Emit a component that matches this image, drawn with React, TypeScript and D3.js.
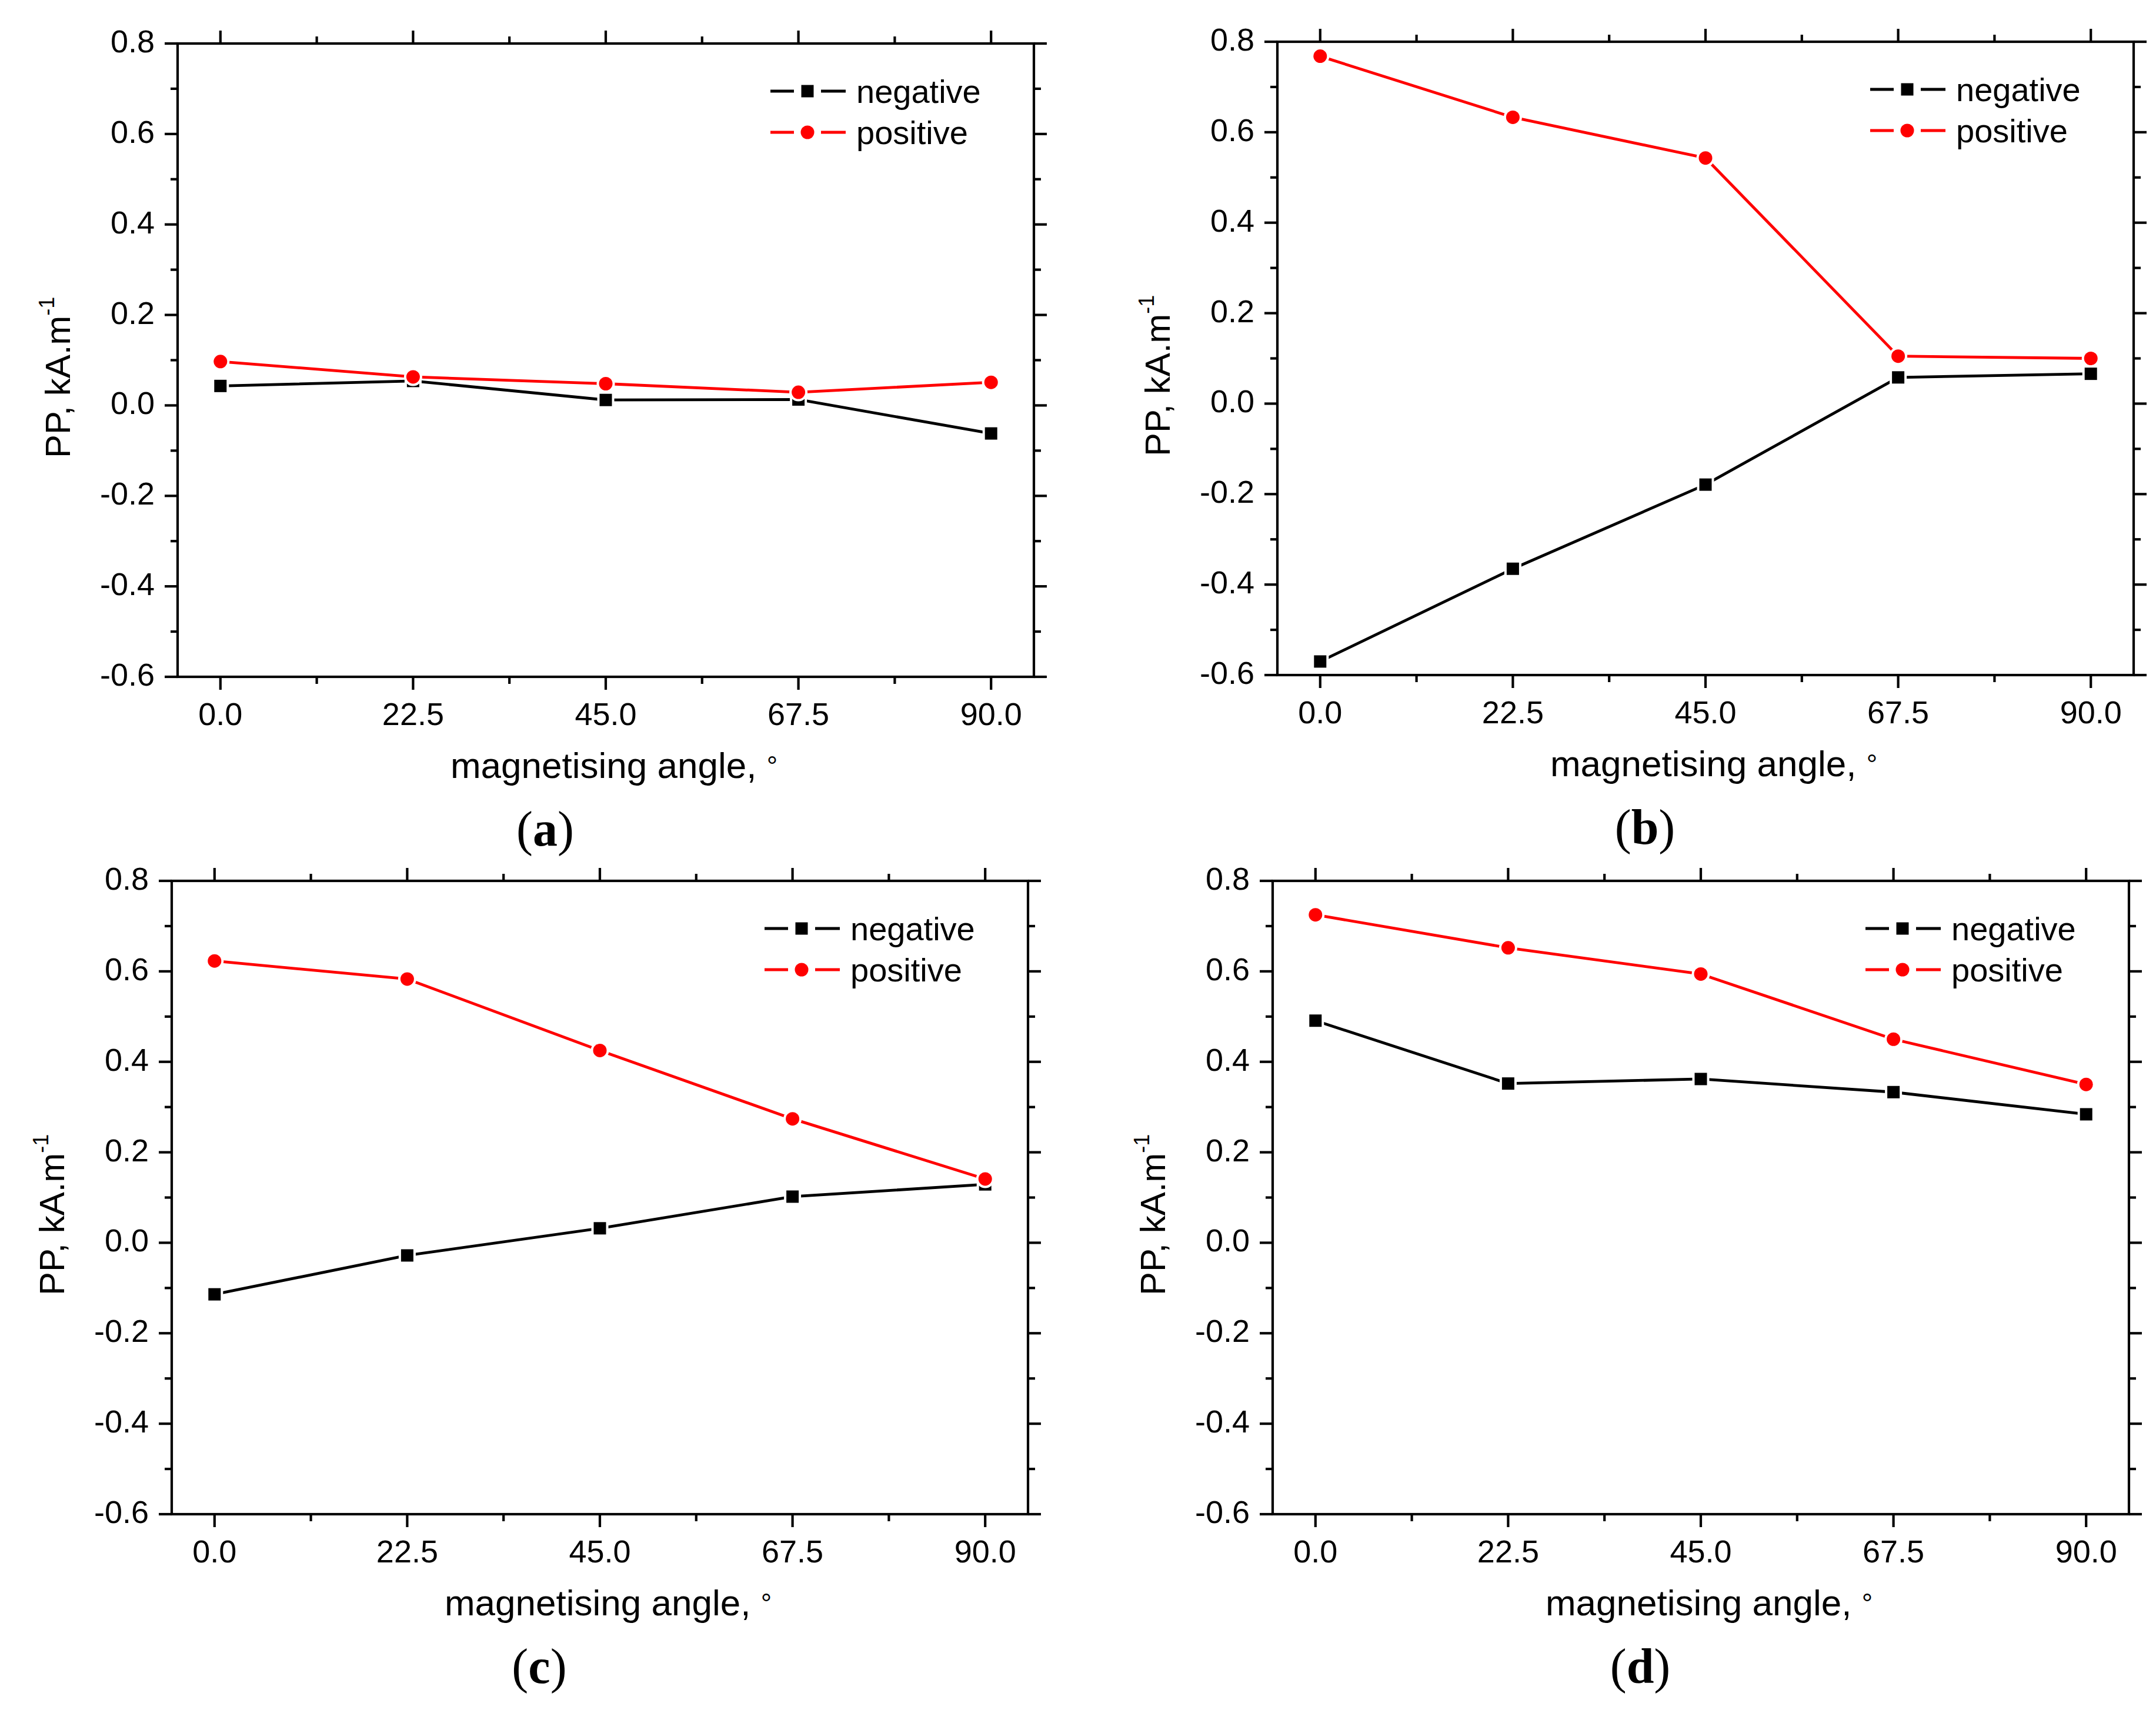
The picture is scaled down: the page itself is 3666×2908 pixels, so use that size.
import React from 'react';
import * as d3 from 'd3';

// ---- data ----
const angles = [0, 22.5, 45, 67.5, 90];
const seriesNames = ['negative', 'positive'];
const panelLabels = ['a', 'b', 'c', 'd'];

const negativeA = [0.043, 0.054, 0.012, 0.013, -0.062];
const positiveA = [0.097, 0.063, 0.048, 0.029, 0.051];
const negativeB = [-0.570, -0.365, -0.179, 0.058, 0.066];
const positiveB = [0.768, 0.633, 0.543, 0.105, 0.100];
const negativeC = [-0.114, -0.028, 0.032, 0.102, 0.129];
const positiveC = [0.623, 0.583, 0.425, 0.274, 0.141];
const negativeD = [0.491, 0.352, 0.362, 0.333, 0.284];
const positiveD = [0.725, 0.652, 0.594, 0.450, 0.350];

const xTicks = [0, 22.5, 45, 67.5, 90];
const xMinorTicks = [11.25, 33.75, 56.25, 78.75];
const yTicks = [-0.6, -0.4, -0.2, 0.0, 0.2, 0.4, 0.6, 0.8];
const yMinorTicks = [-0.5, -0.3, -0.1, 0.1, 0.3, 0.5, 0.7];

const xTitle = 'magnetising angle, ';
const yTitle = 'PP, kA.m';
const ySup = '-1';

// ---- style ----
const SANS = "'Liberation Sans', Arial, Helvetica, sans-serif";
const SERIF = "'Liberation Serif', 'Times New Roman', serif";
const W = 3666;
const H = 2908;
const PW = 1456;
const PH = 1077;
const COLORS = ['#000000', '#ff0000'];
const AXW = 4.2;
const MAJ = 22;
const MIN = 12;

const panels = [
  { left: 302, top: 74, neg: negativeA, pos: positiveA, label: panelLabels[0] },
  { left: 2172, top: 71, neg: negativeB, pos: positiveB, label: panelLabels[1] },
  { left: 292, top: 1498, neg: negativeC, pos: positiveC, label: panelLabels[2] },
  { left: 2164, top: 1498, neg: negativeD, pos: positiveD, label: panelLabels[3] },
];

function Marker({ kind, x, y, color }: { kind: number; x: number; y: number; color: string }) {
  if (kind === 0) {
    const s = 21;
    return (
      <g>
        <rect x={x - s / 2 - 4} y={y - s / 2 - 4} width={s + 8} height={s + 8} fill="#fff" />
        <rect x={x - s / 2} y={y - s / 2} width={s} height={s} fill={color} />
      </g>
    );
  }
  return (
    <g>
      <circle cx={x} cy={y} r={11.5 + 4} fill="#fff" />
      <circle cx={x} cy={y} r={11.5} fill={color} />
    </g>
  );
}

function Panel({ left, top, neg, pos, label }: any) {
  const x = d3.scaleLinear().domain([-5, 95]).range([0, PW]);
  const y = d3.scaleLinear().domain([-0.6, 0.8]).range([PH, 0]);
  const line = d3
    .line<[number, number]>()
    .x((d) => x(d[0]))
    .y((d) => y(d[1]));
  const series = [neg, pos];
  const fmt = (v: number) => (Math.abs(v) < 1e-9 ? '0.0' : v.toFixed(1));

  return (
    <g transform={`translate(${left},${top})`}>
      {/* data */}
      {series.map((vals: number[], si: number) => {
        const pts = angles.map((a, i) => [a, vals[i]] as [number, number]);
        return (
          <g key={si}>
            <path d={line(pts) || ''} fill="none" stroke={COLORS[si]} strokeWidth={4.8} strokeLinejoin="round" />
            {pts.map((p, i) => (
              <Marker key={i} kind={si} x={x(p[0])} y={y(p[1])} color={COLORS[si]} />
            ))}
          </g>
        );
      })}

      {/* frame */}
      <rect x={0} y={0} width={PW} height={PH} fill="none" stroke="#000" strokeWidth={AXW} />

      {/* x ticks */}
      {xTicks.map((t) => (
        <g key={'xt' + t}>
          <line x1={x(t)} x2={x(t)} y1={PH} y2={PH + MAJ} stroke="#000" strokeWidth={AXW} />
          <line x1={x(t)} x2={x(t)} y1={0} y2={-MAJ} stroke="#000" strokeWidth={AXW} />
          <text x={x(t)} y={PH + 82} fontFamily={SANS} fontSize={54} textAnchor="middle" fill="#000">
            {fmt(t)}
          </text>
        </g>
      ))}
      {xMinorTicks.map((t) => (
        <g key={'xm' + t}>
          <line x1={x(t)} x2={x(t)} y1={PH} y2={PH + MIN} stroke="#000" strokeWidth={AXW} />
          <line x1={x(t)} x2={x(t)} y1={0} y2={-MIN} stroke="#000" strokeWidth={AXW} />
        </g>
      ))}

      {/* y ticks */}
      {yTicks.map((t) => (
        <g key={'yt' + t}>
          <line x1={0} x2={-MAJ} y1={y(t)} y2={y(t)} stroke="#000" strokeWidth={AXW} />
          <line x1={PW} x2={PW + MAJ} y1={y(t)} y2={y(t)} stroke="#000" strokeWidth={AXW} />
          <text x={-39} y={y(t) + 15} fontFamily={SANS} fontSize={54} textAnchor="end" fill="#000">
            {fmt(t)}
          </text>
        </g>
      ))}
      {yMinorTicks.map((t) => (
        <g key={'ym' + t}>
          <line x1={0} x2={-MIN} y1={y(t)} y2={y(t)} stroke="#000" strokeWidth={AXW} />
          <line x1={PW} x2={PW + MIN} y1={y(t)} y2={y(t)} stroke="#000" strokeWidth={AXW} />
        </g>
      ))}

      {/* axis titles */}
      <text x={PW / 2 + 14} y={PH + 172} fontFamily={SANS} fontSize={62} textAnchor="middle" fill="#000">
        {xTitle}
        <tspan fontSize={46} dy={-4}>°</tspan>
      </text>
      <text
        transform={`translate(${-183},${PH - 372}) rotate(-90)`}
        fontFamily={SANS}
        fontSize={60}
        fill="#000"
      >
        {yTitle}
        <tspan fontSize={36} dy={-27}>{ySup}</tspan>
      </text>

      {/* legend */}
      {seriesNames.map((name, si) => {
        const ly = si === 0 ? 81 : 151;
        const lx = 1008;
        return (
          <g key={name}>
            <line x1={lx} x2={lx + 40} y1={ly} y2={ly} stroke={COLORS[si]} strokeWidth={4.8} />
            <line x1={lx + 86} x2={lx + 128} y1={ly} y2={ly} stroke={COLORS[si]} strokeWidth={4.8} />
            {si === 0 ? (
              <rect x={lx + 63 - 10.5} y={ly - 10.5} width={21} height={21} fill={COLORS[si]} />
            ) : (
              <circle cx={lx + 63} cy={ly} r={11.5} fill={COLORS[si]} />
            )}
            <text x={lx + 146} y={ly + 20} fontFamily={SANS} fontSize={56} fill="#000">
              {name}
            </text>
          </g>
        );
      })}

      {/* panel label */}
      <text x={625} y={PH + 287} fontFamily={SERIF} fontSize={84} textAnchor="middle" fill="#000">
        (<tspan fontWeight="bold">{label}</tspan>)
      </text>
    </g>
  );
}

export default function App() {
  return (
    <svg
      width={W}
      height={H}
      viewBox={`0 0 ${W} ${H}`}
      style={{ position: 'absolute', left: 0, top: 0, background: '#fff' }}
    >
      <rect x={0} y={0} width={W} height={H} fill="#fff" />
      {panels.map((p, i) => (
        <Panel key={i} {...p} />
      ))}
    </svg>
  );
}
